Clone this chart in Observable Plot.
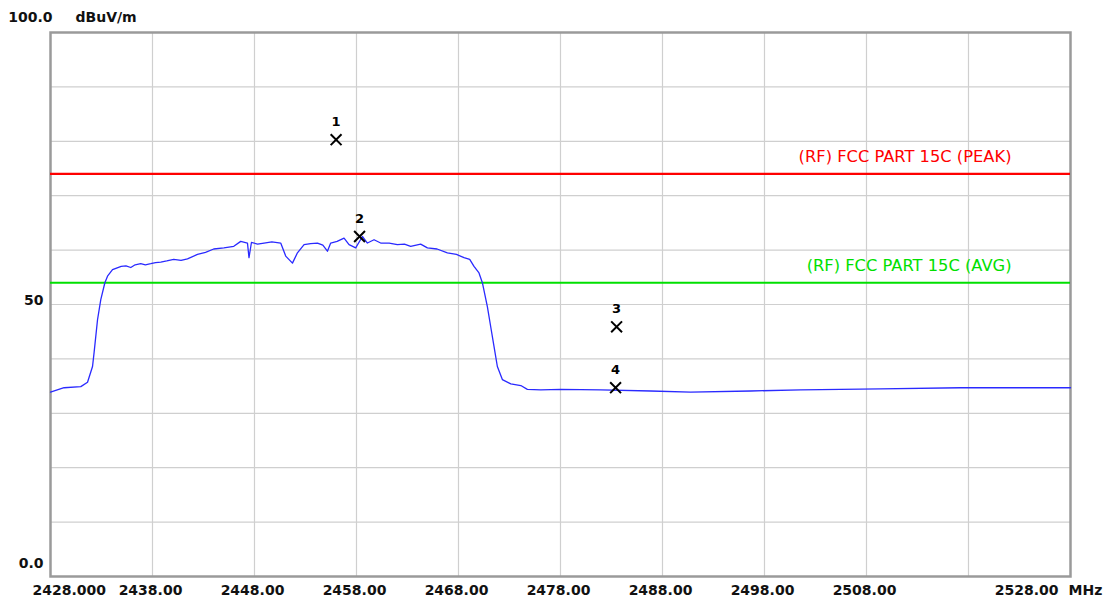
<!DOCTYPE html>
<html>
<head>
<meta charset="utf-8">
<script src="https://cdn.jsdelivr.net/npm/d3@7"></script>
<script src="https://cdn.jsdelivr.net/npm/@observablehq/plot@0.6"></script>
<style>
  html, body { margin: 0; padding: 0; background: #fff; }
</style>
</head>
<body>
<div id="chart"></div>
<script>
// Trace (MHz, dBuV/m)
const freq = [2428.0, 2429.33, 2430.97, 2431.63, 2432.12, 2432.27, 2432.61, 2432.93, 2433.33, 2433.59,
  2434.08, 2434.93, 2435.4, 2435.87, 2436.3, 2436.85, 2437.3, 2437.83, 2438.3, 2438.81, 2439.4, 2440.08, 2440.8, 2441.43, 2442.41, 2443.2, 2444.0,
  2445.0, 2445.97, 2446.65, 2447.31, 2447.46, 2447.70, 2448.3, 2448.94, 2449.7, 2450.57, 2451.06, 2451.72, 2452.21,
  2452.86, 2453.5, 2454.17, 2454.7, 2455.15, 2455.47, 2456.1, 2456.78, 2457.27, 2457.92, 2458.58, 2459.07, 2459.72,
  2460.37, 2461.2, 2462.01, 2462.7, 2463.31, 2464.29, 2464.95, 2465.9, 2466.91, 2467.8, 2468.54, 2469.1, 2469.52, 2470.01, 2470.34,
  2470.83, 2471.15, 2471.48, 2471.81, 2472.30, 2473.13, 2474.11, 2474.75, 2476.06, 2478.02,
  2481.94, 2486.84, 2490.76, 2496.64, 2501.54, 2509.38, 2517.22, 2528.0];
const level = [33.9, 34.7, 34.9, 35.7, 38.6, 41.1, 47.2, 50.9, 54.0, 55.2,
  56.4, 57.0, 57.1, 56.8, 57.3, 57.5, 57.3, 57.5, 57.7, 57.8, 58.0, 58.3, 58.1, 58.4, 59.2, 59.6, 60.2,
  60.4, 60.7, 61.6, 61.3, 58.6, 61.4, 61.1, 61.3, 61.5, 61.3, 58.9, 57.6, 59.5,
  61.0, 61.2, 61.3, 60.9, 59.8, 61.3, 61.6, 62.2, 61.0, 60.4, 62.5, 61.3, 61.9,
  61.3, 61.3, 61.0, 61.1, 60.7, 61.1, 60.4, 60.2, 59.5, 59.2, 58.6, 58.3, 57.0, 55.8, 54.0,
  49.6, 46.0, 42.3, 38.6, 36.2, 35.4, 35.1, 34.4, 34.3, 34.4,
  34.3, 34.1, 33.9, 34.1, 34.3, 34.5, 34.7, 34.7];

// Limits
const limitNames = ["(RF) FCC PART 15C (PEAK)", "(RF) FCC PART 15C (AVG)"];
const limitValues = [74, 54];
const limitColors = ["#ff0000", "#00e000"];

// Markers
const markerLabels = ["1", "2", "3", "4"];
const markerFreq = [2456.0, 2458.3, 2483.5, 2483.4];
const markerLevel = [80.3, 62.5, 45.9, 34.7];

// Axis ticks
const xGrid = [2438, 2448, 2458, 2468, 2478, 2488, 2498, 2508, 2518];
const xTickValues = [2438, 2448, 2458, 2468, 2478, 2488, 2498, 2508];
const xFirstLabel = "2428.000";
const xLastLabel = "2528.00";
const xUnit = "MHz";
const yGrid = [10, 20, 30, 40, 50, 60, 70, 80, 90];
const yUnit = "dBuV/m";
const yTopLabel = "100.0";
const yMidLabel = "50";
const yBottomLabel = "0.0";

const trace = freq.map((f, i) => ({freq: f, level: level[i]}));
const markers = markerLabels.map((l, i) => ({label: l, freq: markerFreq[i], level: markerLevel[i]}));

const font = "DejaVu Sans";
const chart = Plot.plot({
  width: 1113,
  height: 601,
  marginLeft: 50,
  marginRight: 43,
  marginTop: 32,
  marginBottom: 25,
  style: {fontFamily: font, fontSize: "14px", fontWeight: "bold", color: "#000", background: "#fff"},
  x: {domain: [2428, 2528], axis: null},
  y: {domain: [0, 100], axis: null},
  marks: [
    Plot.ruleX(xGrid, {stroke: "#cfcfcf", strokeWidth: 1.2}),
    Plot.ruleY(yGrid, {stroke: "#cfcfcf", strokeWidth: 1.2}),
    Plot.frame({stroke: "#9a9a9a", strokeWidth: 2.5}),
    Plot.axisX(xTickValues, {label: null, tickSize: 0, tickPadding: 9, tickFormat: d => d.toFixed(2), dx: -2, fontSize: 14, fontWeight: "bold", fill: "#111"}),
    Plot.text([xFirstLabel], {x: 2428, frameAnchor: "bottom", text: d => d, textAnchor: "start", lineAnchor: "top", dx: -18, dy: 9, fontSize: 14, fontWeight: "bold", fill: "#111"}),
    Plot.text([xLastLabel], {x: 2528, frameAnchor: "bottom", text: d => d, textAnchor: "end", lineAnchor: "top", dx: -12, dy: 9, fontSize: 14, fontWeight: "bold", fill: "#111"}),
    Plot.text([xUnit], {x: 2528, frameAnchor: "bottom", text: d => d, textAnchor: "start", lineAnchor: "top", dx: -2, dy: 9, fontSize: 14, fontWeight: "bold", fill: "#111"}),
    Plot.text([yTopLabel], {y: 100, frameAnchor: "left", text: d => d, textAnchor: "end", dx: 2, dy: -15, fontSize: 14, fontWeight: "bold", fill: "#111"}),
    Plot.text([yUnit], {y: 100, frameAnchor: "left", text: d => d, textAnchor: "start", dx: 25, dy: -15, fontSize: 14, fontWeight: "bold", fill: "#111"}),
    Plot.text([yMidLabel], {y: 50, frameAnchor: "left", text: d => d, textAnchor: "end", dx: -7, dy: -4, fontSize: 14, fontWeight: "bold", fill: "#111"}),
    Plot.text([yBottomLabel], {y: 0, frameAnchor: "left", text: d => d, textAnchor: "end", dx: -7, dy: -13, fontSize: 14, fontWeight: "bold", fill: "#111"}),
    Plot.ruleY(limitValues, {stroke: (d, i) => limitColors[i], strokeWidth: 2.2}),
    Plot.text(limitValues, {y: d => d, x: 2528, text: (d, i) => limitNames[i], fill: (d, i) => limitColors[i], textAnchor: "end", dx: -59, dy: -17, fontSize: 16.3, fontWeight: "normal"}),
    Plot.line(trace, {x: "freq", y: "level", stroke: "#2a2aff", strokeWidth: 1.3}),
    Plot.dot(markers, {x: "freq", y: "level", symbol: "times", r: 5, stroke: "#000", strokeWidth: 2}),
    Plot.text(markers, {x: "freq", y: "level", text: "label", dy: -18, fontSize: 13, fontWeight: "bold", fill: "#000"})
  ]
});
document.getElementById("chart").appendChild(chart);
</script>
</body>
</html>
